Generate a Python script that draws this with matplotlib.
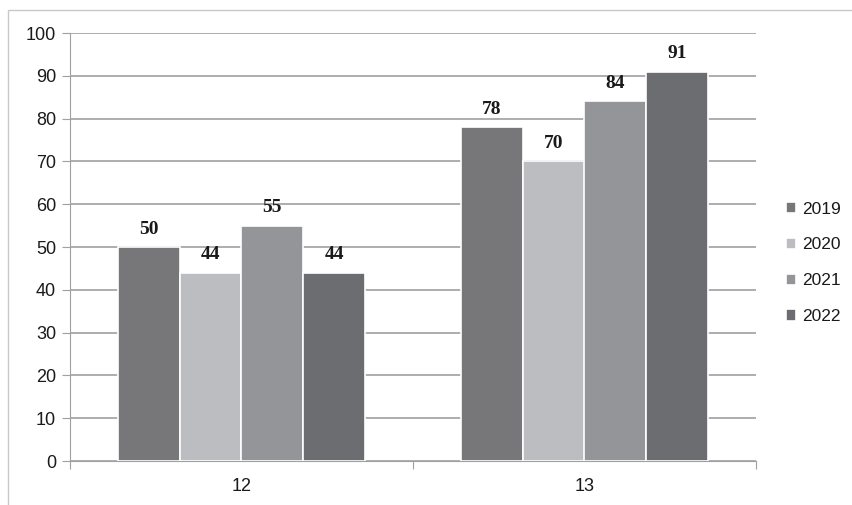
import numpy as np
import matplotlib.pyplot as plt
from matplotlib.patches import Rectangle

categories = ['12', '13']
years = ['2019', '2020', '2021', '2022']
values = {
    '2019': [50, 78],
    '2020': [44, 70],
    '2021': [55, 84],
    '2022': [44, 91],
}
colors = ['#77777a', '#bcbdc0', '#949598', '#6c6d71']

fig = plt.figure(figsize=(8.53, 5.05), dpi=100)
# outer chart frame
fig.patches.append(Rectangle((8 / 853, -0.01), 1.0, 1 - 10 / 505 + 0.01,
                             transform=fig.transFigure, fill=False,
                             edgecolor='#c8c8c8', linewidth=1))

ax = fig.add_axes([70 / 853, 1 - 461 / 505, (756 - 70) / 853, (461 - 33) / 505])

x = np.arange(len(categories))
w = 0.18
for i, (yr, c) in enumerate(zip(years, colors)):
    pos = x + (i - 1.5) * w
    bars = ax.bar(pos, values[yr], width=w, color=c, edgecolor='white',
                  linewidth=1.2, label=yr, zorder=3)
    for b, v in zip(bars, values[yr]):
        ax.text(b.get_x() + b.get_width() / 2, v + 2.2, str(v), ha='center',
                va='bottom', fontsize=14, fontweight='bold',
                family='Liberation Serif', color='#1a1a1a')

ax.set_xlim(-0.5, 1.5)
ax.set_ylim(0, 100)
ax.set_yticks(range(0, 101, 10))
ax.set_xticks([-0.5, 0.5, 1.5], minor=False)
ax.set_xticklabels([])
ax.set_xticks(x, minor=True)
ax.set_xticklabels(categories, minor=True)
ax.tick_params(axis='x', which='minor', length=0, pad=12)
ax.tick_params(axis='x', which='major', length=6, color='#a0a0a0')
ax.tick_params(axis='y', length=6, color='#a0a0a0', pad=4)
for lab in ax.get_yticklabels() + ax.get_xticklabels(minor=True):
    lab.set_family('Liberation Sans')
    lab.set_fontsize(13)
    lab.set_color('#1a1a1a')

ax.yaxis.grid(True, color='#a0a0a0', linewidth=1.2, zorder=0)
for s in ['top', 'right']:
    ax.spines[s].set_visible(False)
ax.spines['left'].set_color('#a0a0a0')
ax.spines['bottom'].set_color('#a0a0a0')

leg = fig.legend(loc='upper left', bbox_to_anchor=(770 / 853, 1 - 186 / 505),
                 frameon=False, prop={'family': 'Liberation Sans', 'size': 12.5},
                 handlelength=0.6, handleheight=0.6, handletextpad=0.35,
                 labelspacing=1.2)
for t in leg.get_texts():
    t.set_color('#1a1a1a')

fig.savefig('out.png', dpi=100)
